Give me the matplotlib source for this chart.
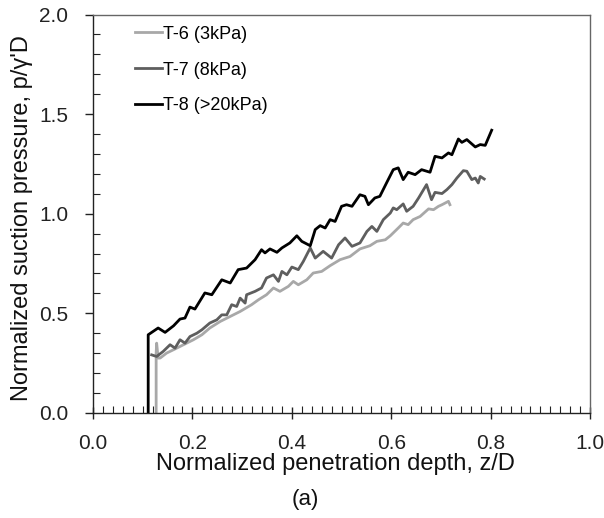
import numpy as np
import matplotlib.pyplot as plt
from matplotlib.ticker import MultipleLocator

plt.rcParams['font.family'] = ['Liberation Sans', 'DejaVu Sans']

# T-6 (3kPa)
t6_x = [0.127, 0.127, 0.128, 0.131, 0.135, 0.148, 0.162, 0.182, 0.202, 0.219, 0.235, 0.256,
        0.276, 0.296, 0.319, 0.333, 0.349, 0.363, 0.376, 0.393, 0.403, 0.413, 0.430,
        0.443, 0.460, 0.477, 0.497, 0.517, 0.537, 0.557, 0.571, 0.588, 0.598, 0.614,
        0.624, 0.634, 0.644, 0.658, 0.675, 0.685, 0.695, 0.702, 0.715, 0.718]
t6_y = [0.0, 0.30, 0.350, 0.275, 0.275, 0.300, 0.317, 0.342, 0.367, 0.392, 0.426, 0.459,
        0.484, 0.509, 0.543, 0.568, 0.593, 0.627, 0.610, 0.635, 0.660, 0.643, 0.668,
        0.702, 0.710, 0.739, 0.769, 0.785, 0.823, 0.839, 0.861, 0.869, 0.889, 0.928,
        0.953, 0.945, 0.970, 0.986, 1.024, 1.020, 1.037, 1.045, 1.062, 1.045]

# T-7 (8kPa)
t7_x = [0.118, 0.128, 0.141, 0.155, 0.165, 0.175, 0.185, 0.195, 0.209, 0.219, 0.235, 0.249,
        0.259, 0.269, 0.279, 0.289, 0.296, 0.306, 0.309, 0.326, 0.339, 0.349, 0.363,
        0.373, 0.380, 0.390, 0.400, 0.413, 0.423, 0.437, 0.447, 0.463, 0.480, 0.494,
        0.507, 0.521, 0.537, 0.551, 0.561, 0.571, 0.584, 0.598, 0.604, 0.611, 0.624,
        0.631, 0.644, 0.655, 0.671, 0.681, 0.688, 0.702, 0.712, 0.722, 0.732, 0.745,
        0.752, 0.762, 0.769, 0.775, 0.779, 0.787]
t7_y = [0.291, 0.283, 0.308, 0.342, 0.325, 0.367, 0.350, 0.383, 0.400, 0.417, 0.451, 0.467,
        0.492, 0.492, 0.543, 0.534, 0.576, 0.551, 0.593, 0.610, 0.627, 0.677, 0.693,
        0.660, 0.710, 0.693, 0.732, 0.719, 0.760, 0.828, 0.777, 0.811, 0.777, 0.844,
        0.878, 0.836, 0.853, 0.911, 0.936, 0.911, 0.970, 1.003, 1.029, 1.020, 1.049,
        1.012, 1.037, 1.079, 1.146, 1.070, 1.107, 1.101, 1.121, 1.146, 1.179, 1.216,
        1.213, 1.171, 1.179, 1.154, 1.187, 1.174]

# T-8 (>20kPa)
t8_x = [0.111, 0.111, 0.131, 0.145, 0.162, 0.175, 0.185, 0.195, 0.205, 0.225, 0.239, 0.259,
        0.276, 0.292, 0.309, 0.326, 0.339, 0.346, 0.356, 0.370, 0.380, 0.396, 0.410,
        0.420, 0.437, 0.447, 0.457, 0.467, 0.477, 0.487, 0.500, 0.510, 0.521, 0.537,
        0.547, 0.554, 0.567, 0.577, 0.591, 0.604, 0.614, 0.624, 0.634, 0.648, 0.661,
        0.678, 0.688, 0.702, 0.715, 0.722, 0.735, 0.742, 0.752, 0.769, 0.779, 0.789, 0.802]
t8_y = [0.0, 0.392, 0.426, 0.404, 0.437, 0.471, 0.476, 0.531, 0.521, 0.602, 0.593, 0.668,
        0.652, 0.719, 0.727, 0.769, 0.819, 0.803, 0.823, 0.806, 0.828, 0.853, 0.889,
        0.861, 0.839, 0.920, 0.940, 0.928, 0.970, 0.961, 1.037, 1.045, 1.037, 1.095,
        1.087, 1.045, 1.079, 1.087, 1.157, 1.221, 1.230, 1.171, 1.208, 1.196, 1.221,
        1.208, 1.288, 1.280, 1.305, 1.296, 1.375, 1.358, 1.372, 1.335, 1.347, 1.343, 1.419]

fig = plt.figure(figsize=(6.04, 5.18), dpi=100)
ax = fig.add_axes([0.154, 0.203, 0.823, 0.769])

ax.plot(t6_x, t6_y, color='#a8a8a8', lw=2.0, label='T-6 (3kPa)')
ax.plot(t7_x, t7_y, color='#5e5e5e', lw=2.0, label='T-7 (8kPa)')
ax.plot(t8_x, t8_y, color='black', lw=2.0, label='T-8 (>20kPa)')

ax.set_xlim(0, 1.0)
ax.set_ylim(0, 2.0)
ax.xaxis.set_major_locator(MultipleLocator(0.2))
ax.xaxis.set_minor_locator(MultipleLocator(0.02))
ax.yaxis.set_major_locator(MultipleLocator(0.5))
ax.yaxis.set_minor_locator(MultipleLocator(0.1))
ax.xaxis.set_major_formatter(plt.FuncFormatter(lambda v, p: f"{v:.1f}"))
ax.yaxis.set_major_formatter(plt.FuncFormatter(lambda v, p: f"{v:.1f}"))

ax.tick_params(which='major', direction='inout', length=9, width=1.0, labelsize=15,
               colors='#222222', pad=11)
ax.tick_params(which='minor', direction='in', length=5, width=0.8, color='#222222')
ax.tick_params(axis='y', which='major', direction='out', length=6, pad=12)

for s in ['left', 'bottom']:
    ax.spines[s].set_color('#222222')
    ax.spines[s].set_linewidth(1.0)
for s in ['top', 'right']:
    ax.spines[s].set_color('#666666')
    ax.spines[s].set_linewidth(1.0)

ax.set_xlabel('Normalized penetration depth, z/D', fontsize=17, color='#111111')
ax.set_ylabel("Normalized suction pressure, p/\u03b3'D", fontsize=17, color='#111111')
ax.xaxis.set_label_coords(0.487, -0.1)
ax.yaxis.set_label_coords(-0.12, 0.49)

ax.legend(loc='upper left', frameon=False, fontsize=13, handlelength=1.5, handletextpad=0.05,
          labelspacing=1.05, bbox_to_anchor=(0.052, 1.013))

fig.text(0.505, 0.035, '(a)', fontsize=16, ha='center', va='center', color='#111111')

fig.savefig('out.png', dpi=100)
